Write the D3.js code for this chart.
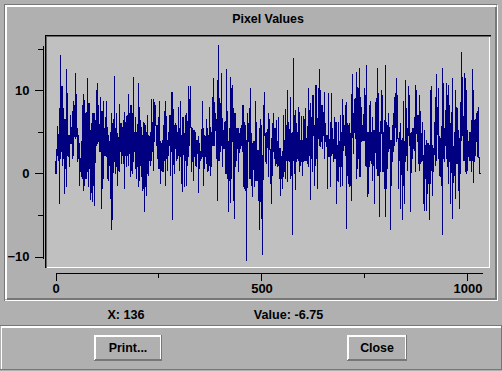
<!DOCTYPE html>
<html><head><meta charset="utf-8">
<style>
html,body{margin:0;padding:0;background:#b0b0b0;overflow:hidden}
svg{display:block}
text{font-family:"Liberation Sans",Arial,sans-serif;font-weight:bold;fill:#000}
</style>
<script src="https://cdnjs.cloudflare.com/ajax/libs/d3/7.8.5/d3.min.js"></script>
</head><body><div id="c"></div>
<script>
const title="Pixel Values", readoutX="X: 136", readoutValue="Value: -6.75", buttonLabels=["Print...","Close"];
const yMajorTicks=[-10,0,10], yMinorTicks=[-5,5,15];
const xMajorTicks=[0,500,1000], xMinorTicks=[250,750];
// Per-screen-column high and low of the trace, in six runs from left to right.
const highsA=[0,2.8,5.7,2.6,7.8,14.2,10.5,10.5,7.8,6.5,6.5,12.5,9.6,4.6,4.6,7,5.6,7.5,8.7,8.2,12.1,9.5,5.4,4.6,3.6,1.8,1.8,8.2,9.5,8.8,7.2,7.4,11.5,8.4,8.4,5.2,6,7.2,7.2,7.2,6.4,10,10.8,8.2,5.8,9.2,7.5,7.5,8.7,5.4,6.7,8.7,5.6,4.6,3.8,5,7.2,6,5.8,11.7,5.4,7.2,4.8,3.8,8.3,6,6,5.6,6.4,7.4,6.2];
const lowsA=[0,0,2.2,1.6,-3.6,1.8,2.6,1,1.8,-2.4,.6,-1.6,2.2,2,.8,3.6,3.6,1.8,2.2,4.4,4.2,4.4,1.4,1.8,-1.4,.2,-.4,-.6,-2.1,-1.4,-.6,-.6,.2,-1.6,.6,-3.1,-2.3,-3.4,-1.4,-3.8,1.6,3.4,3.6,3.8,2.6,2.6,-4.2,-1.8,-.6,2.2,2.2,2,-.6,-.8,1,-3,-6.8,-5.6,1.4,1.4,0,.8,-1.4,.4,.2,2.6,1.2,2.2,1.2,-1.8,3];
const highsB=[6.9,7,9.5,7.2,8.2,8.2,7.2,11.6,3.8,6.8,4.9,5.6,10.9,8,6.4,5.6,4.6,6.1,6,5.8,4.9,7,4.6,4.4,5,8.9,6.1,8.9,8.6,8.2,5.8,5.8,6.8,8.7,3.8,3.6,4,5.8,7.5,8.7,6.9,4,4,7,7,9.7,9.7,7.7,5.8,6,5.8,5,7.9,5.4,8.7,4.6,6.8,6.8,4.8,7,7.2,3.4,10.5,8.9,10.5,5.2,5.4,5.2,5.2,5,4,4];
const lowsB=[.9,2.2,1,2.4,-.4,.4,0,1.4,3,.6,-.6,.8,-1.6,-.8,1,-.4,-2,-1.8,-4.6,-1.6,-2.6,0,-.2,1.6,1,1.6,2.6,.4,3.8,5.8,3.4,1.8,.6,.6,-1.2,.4,.2,.2,1.6,-1.4,1.8,.4,2.8,3.4,-.3,2.6,-5.6,3.8,0,3,1.6,1.8,2.2,.4,2,-1.2,-2.2,2.8,-1.6,1.6,-1.4,2,2,3.4,5.8,.2,1.4,-.9,2,1,.8,2.6];
const highsC=[4.5,3.6,2.6,3.8,8.7,5.4,4.6,3.6,6.5,5.4,4.6,7.9,5.6,4.6,9.2,11.5,8.6,7.2,5.2,11.2,15.4,9,8.4,12.1,6.6,5.2,6.2,5.8,12.5,7.5,3.8,3.2,11.6,10.2,10.6,7.8,7.2,7.2,5.4,5.4,5.4,4.8,5.4,4.6,8.2,8.2,6.2,5.8,4,7.2,6,7.8,10.2,4.8,3.6,3.8,3.8,8.7,6.2,2.8,2.8,5.4,6.5,5.8,2.2,8.2,9.8,4.8,4.9,5,7.2,6.5];
const lowsC=[-2.3,1.8,1.6,1.8,2,-1.4,.6,2.4,1.2,.2,.4,1,-.2,.8,3.4,3.4,3.4,5.2,1.8,-3.3,1.6,1.6,2.6,3.4,.9,3.2,3,0,0,-.6,-4.6,-.8,-3.5,-.6,3.8,-3.2,-5.4,3.8,1.6,3,.2,2.8,3,3.4,2.6,-1.6,-1.8,-2,-10.5,2.6,3.8,-.6,-.6,-1.4,-2.8,.6,-1.6,-.8,-.8,-.8,-3.2,-6.8,-3.4,-5.4,-9.7,.8,4.6,1.4,1.2,3.4,-.4,3.6];
const highsD=[2.2,4.2,6,7.2,5.4,5.4,6.4,3,6.8,3,3,2,1.4,7,4,7.7,5,10,6.2,4,9.2,4.8,5,13.9,7,7.6,6,5,7.9,7.4,4,6.9,4,6.9,6.5,7.8,4.2,3.4,10.2,7.6,8.4,6.8,9.4,9.4,5.8,10.6,10.6,6.6,10.2,12.5,10,8.2,8.2,7.4,9.8,6,4.6,4.6,9.6,3.4,6.2,9.6,5.4,2.6,6.8,6.2,6.2,3.4,6.2,3.4,7,3.4];
const lowsD=[-1.2,-3.6,-.2,2.6,1.8,1,1.2,.9,1,-.6,-2.6,-.6,-1.8,-.4,.2,-.6,1.6,-1,1.6,1.4,-.6,-.2,-7.4,1.6,0,-1.9,1.4,1.8,1.6,.2,1,1.4,-.2,1.4,1.6,1.6,1.6,1.2,.8,2.2,-3.1,2.2,.2,4.6,-1.4,1,1.8,-1.8,6.5,3.4,3.2,3.8,3,4.6,1.8,4.2,3.2,-1.8,2,2,-1.6,2.2,2.4,1.4,1.8,1.8,-3.6,-.8,-1,.8,-1.6,1];
const highsE=[8.9,7,5.8,8.2,8.5,6,5.8,6,4.8,9.5,11.9,7.2,8.9,9,12.2,10.4,10.2,12.6,9.2,8,5.8,5.8,10.2,9.4,13,5,5,8.2,8.7,5,6.8,5.2,5.2,8.6,9,12.6,9.6,4.9,5.8,10,9.4,5,6.4,13,6.2,5.8,7.2,5.6,4,4,5.8,7.2,9.2,9.6,11.5,9.4,4.2,5,6,4,4.2,8.7,3.4,11.2,7.8,4,10.5,9.4,4.8,4.9,5.4,5.4];
const lowsE=[-1.4,3.8,3.4,2.2,-6.6,.6,-1.2,-1.6,-1.4,-3.3,5.8,2.4,5,4.2,-.6,.6,1.8,-.4,-.4,4,4,4,4,1,.8,-2.8,-2.4,.8,1.6,1.2,-.8,1,-3.6,2.6,.6,-.2,-.2,-5.2,2.6,4.8,.2,.2,-1.8,-5.2,-1.8,.6,2.6,3,-6.8,1,1.4,2.6,3.4,5.6,3.8,4.2,-1.8,2.2,-4.2,.2,-5.6,-1.4,-3.6,1.4,2.2,.4,4.6,3.4,-4.6,2.6,1.8,3];
const highsF=[5.4,10.6,10,7,7,9.4,7.5,4.8,6.2,2.2,5.2,3.4,4,3.6,3.6,3.4,10,10.5,3.4,3,3.8,9.2,11.9,7.8,10.2,4.4,4.2,4.4,12.7,10.9,5.4,7.6,10.8,9.4,10.6,8.2,6,3.8,11.4,3.2,4.2,10,8,7.8,5.2,4.2,4.2,14.6,11.6,5.2,12.1,11.5,10,5.2,3.8,5,5,4.8,12.5,10,6.4,6.5,7.2,7.5,8,1.9,0];
const lowsF=[2.8,.2,4.8,3.8,1.2,.4,1.2,1.4,1.6,-3.6,-4.4,-.6,-4.4,-2.4,-1.2,-5.6,-1.2,.4,-2.6,.8,3,1,1.6,5.8,1.8,-.2,-.4,-1.4,-7.4,3.4,1.4,3.4,1.8,.8,-1.2,1.4,-3.6,3.4,-5.4,.2,-.2,-3,1.2,1.2,-2,-4.2,2.6,4,4.6,1.6,1.6,.2,0,.4,2.6,1.6,1.6,.2,1.6,-1.1,1.4,2.2,3.8,2,2,0,0];
const samplesPerColumn=1000/412;

const pairs=[[highsA,lowsA],[highsB,lowsB],[highsC,lowsC],[highsD,lowsD],[highsE,lowsE],[highsF,lowsF]];
const highs=pairs.flatMap(p=>p[0]), lows=pairs.flatMap(p=>p[1]);
// The trace is continuous: each column also carries half of the stroke joining it to its neighbours.
const columns=highs.map((h,i)=>{
  const toNext=i<highs.length-1?(lows[i]+highs[i+1])/2:lows[i];
  const fromPrev=i>0?(lows[i-1]+h)/2:h;
  return {sample:i*samplesPerColumn,high:Math.max(h,toNext,fromPrev),low:Math.min(lows[i],toNext,fromPrev)};
});

const W=502,H=371,BG="#b0b0b0",DARK="#777",WHITE="#fff",NAVY="#000080",PLOT="#c0c0c0";
const svg=d3.select("#c").append("svg").attr("width",W).attr("height",H);
const rect=(x,y,w,h,f)=>svg.append("rect").attr("x",x).attr("y",y).attr("width",w).attr("height",h).attr("fill",f).attr("shape-rendering","crispEdges");
rect(0,0,W,H,BG);
// outer plot frame
rect(4,4,493,1,DARK);rect(4,4,1,297,DARK);
rect(5,5,2,294,WHITE);rect(5,5,491,2,WHITE);
rect(7,298,490,2,DARK);rect(495,7,2,293,DARK);
rect(5,300,493,1,WHITE);rect(497,5,1,296,WHITE);
// plot area
rect(47,37,442,230,PLOT);
rect(45,35,446,1,"#000");rect(45,36,446,1,"#666");rect(45,35,1,233,"#000");rect(46,36,1,232,"#666");
rect(47,267,443,1,WHITE);rect(489,37,1,231,WHITE);
// lower panel
rect(0,325,W,1,DARK);rect(1,326,500,2,WHITE);rect(0,369,W,1,DARK);rect(501,326,1,44,DARK);rect(1,326,1,43,WHITE);

const x=d3.scaleLinear().domain([0,1000]).range([55.5,467.5]);
const y=d3.scaleLinear().domain([-10,10]).range([256.5,90.5]);

svg.append("g").selectAll("line").data(columns).join("line")
  .attr("x1",d=>x(d.sample)).attr("x2",d=>x(d.sample))
  .attr("y1",d=>y(d.high)).attr("y2",d=>y(d.low))
  .attr("stroke",NAVY).attr("stroke-width",1).attr("stroke-linecap","square").attr("shape-rendering","crispEdges");

const xAxisScale=x.copy().domain([0,1035.2]).range([55.5,482]);
const yAxisScale=y.copy().domain([15.42,-10.24]).range([45.5,258.5]);
function styleAxis(g){g.selectAll("line,path").attr("stroke","#000").attr("shape-rendering","crispEdges");}
// y axis
const gy=svg.append("g").attr("transform","translate(42.5,0)")
  .call(d3.axisLeft(yAxisScale).tickValues(yMajorTicks).tickSize(8).tickSizeOuter(0).tickPadding(5).tickFormat(d3.format("d")));
gy.call(styleAxis);gy.selectAll("text").attr("font-size",13).style("font-family",'"Liberation Sans"').style("font-weight","bold").attr("fill","#000");
svg.append("g").attr("transform","translate(42.5,0)")
  .call(d3.axisLeft(yAxisScale).tickValues(yMinorTicks).tickSize(5).tickFormat("")).call(styleAxis).select(".domain").remove();
// x axis
const gx=svg.append("g").attr("transform","translate(0,272.5)")
  .call(d3.axisBottom(xAxisScale).tickValues(xMajorTicks).tickSize(8).tickSizeOuter(0).tickPadding(3).tickFormat(d3.format("d")));
gx.call(styleAxis);gx.selectAll("text").attr("font-size",13).style("font-family",'"Liberation Sans"').style("font-weight","bold").attr("fill","#000");
svg.append("g").attr("transform","translate(0,272.5)")
  .call(d3.axisBottom(xAxisScale).tickValues(xMinorTicks).tickSize(5).tickFormat("")).call(styleAxis).select(".domain").remove();

const label=(t,x0,y0,size,anchor)=>svg.append("text").attr("x",x0).attr("y",y0).attr("font-size",size).attr("text-anchor",anchor||"middle").text(t);
label(title,268,23,12.4);
label(readoutX,126,319,12.6);
label(readoutValue,288.5,319,12.6);
// buttons
[[94,68],[347,60]].forEach(([bx,bw],i)=>{
  rect(bx,335,bw,26,DARK);
  rect(bx,335,bw-1,24,WHITE);rect(bx,335,1,25,WHITE);
  rect(bx+2,337,bw-4,22,BG);
  label(buttonLabels[i],bx+bw/2,352,12.4);
});
</script></body></html>
